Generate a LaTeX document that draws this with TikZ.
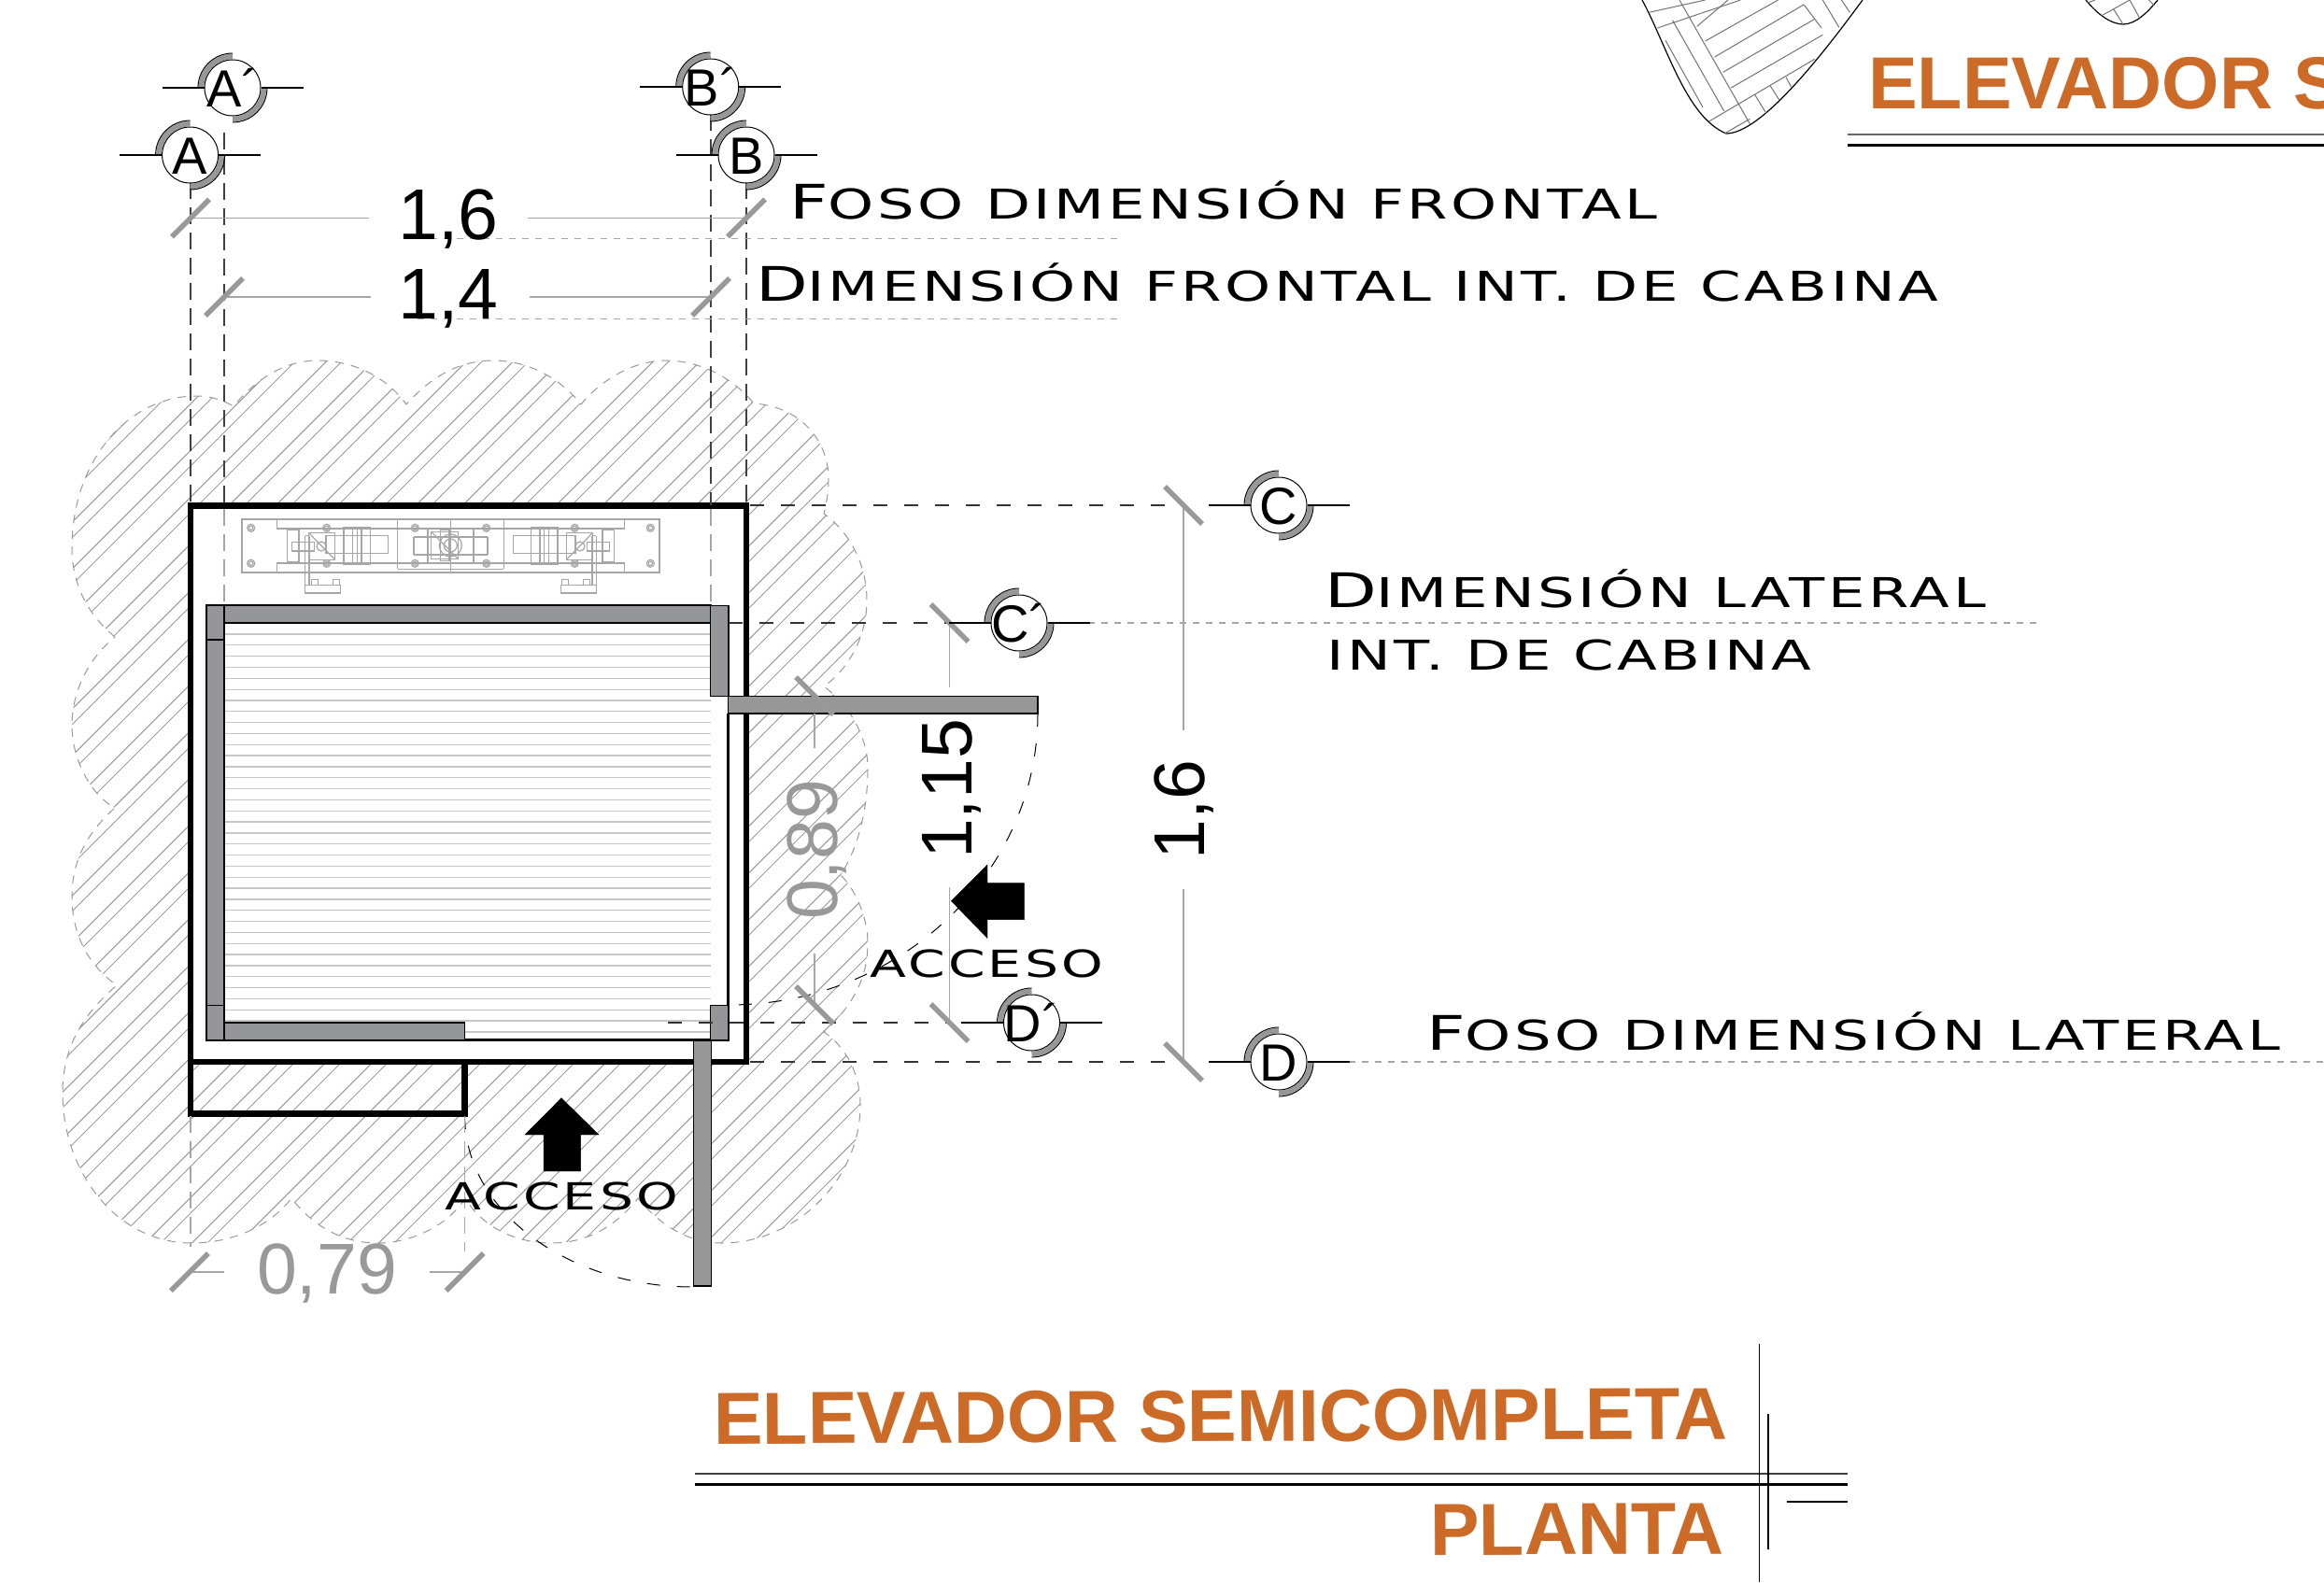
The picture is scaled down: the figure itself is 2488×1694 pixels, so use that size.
\documentclass[tikz,border=0pt]{standalone}
\usepackage{fontspec}
\setmainfont{Liberation Sans}
\newfontfamily\planfont[FakeStretch=1.42,LetterSpace=8]{DejaVu Sans}
\definecolor{wallgray}{HTML}{949598}
\definecolor{doorgray}{HTML}{979797}
\definecolor{dimgray}{HTML}{999999}
\definecolor{titleorange}{HTML}{CC6A28}
\tikzset{
    shaftline/.style={black, line width=6.5pt},
    wallpart/.style={fill=wallgray, draw=black, line width=2pt},
    doorpart/.style={fill=doorgray, draw=black, line width=1.5pt},
    hatchline/.style={black!40, line width=1pt},
    cloudline/.style={black!40, line width=1pt, dash pattern=on 9pt off 8pt},
    axisline/.style={black!75, line width=1.5pt, dash pattern=on 18pt off 9pt},
    axisfaint/.style={black!35, line width=1.5pt, dash pattern=on 18pt off 9pt},
    leadline/.style={black!80, line width=1.5pt, dash pattern=on 15pt off 18pt},
    leadfaint/.style={black!35, line width=1.2pt, dash pattern=on 7pt off 7pt},
    swingline/.style={black, line width=1pt, dash pattern=on 14pt off 18pt},
    dimline/.style={black!35, line width=1.5pt},
    dimtick/.style={dimgray, line width=5.5pt},
    machineline/.style={black!35, line width=1.2pt},
    floorline/.style={black!22, line width=1.3pt},
    gridbubble/.style={circle, draw=black, fill=white, line width=1pt, minimum size=60pt, inner sep=0pt},
    dimnum/.style={font=\fontsize{77}{80}\selectfont, inner sep=0pt, anchor=base},
    planlabel/.style={font=\planfont\fontsize{44}{46}\selectfont, inner sep=0pt, anchor=base west},
    accesslabel/.style={font=\planfont\fontsize{40}{42}\selectfont, inner sep=0pt, anchor=base west},
    sheettitle/.style={font=\bfseries\fontsize{79}{80}\selectfont, text=titleorange, inner sep=0pt, anchor=base west}
}
\newcommand{\bubtxt}[1]{\makebox[0pt]{\raisebox{-20pt}[0pt][0pt]{\fontsize{56}{58}\selectfont #1}}}
\newcommand{\bigini}[1]{{\fontsize{51}{52}\selectfont #1}}
\newcommand{\cloudoutline}{(123,682) .. controls (90,655) and (77,620) .. (77,587)
    .. controls (77,490) and (140,424) .. (210,424) .. controls (225,424) and (238,428) .. (250,435)
    .. controls (275,405) and (305,386) .. (340,386) .. controls (380,386) and (415,405) .. (435,433)
    .. controls (460,405) and (490,386) .. (528,386) .. controls (565,386) and (600,405) .. (622,433)
    .. controls (645,405) and (680,386) .. (713,386) .. controls (750,386) and (785,405) .. (807,432)
    .. controls (855,435) and (887,470) .. (887,513) .. controls (887,525) and (885,540) .. (882,550)
    .. controls (910,570) and (928,605) .. (928,643) .. controls (928,680) and (910,715) .. (882,735)
    .. controls (910,755) and (929,790) .. (929,822) .. controls (929,865) and (920,905) .. (900,937)
    .. controls (918,955) and (929,985) .. (929,1010) .. controls (929,1045) and (915,1075) .. (882,1105)
    .. controls (905,1120) and (921,1150) .. (921,1183) .. controls (921,1265) and (850,1331) .. (773,1331)
    .. controls (735,1331) and (705,1310) .. (683,1283) .. controls (660,1312) and (630,1331) .. (590,1331)
    .. controls (550,1331) and (515,1312) .. (498,1283) .. controls (480,1312) and (440,1331) .. (405,1331)
    .. controls (365,1331) and (335,1312) .. (312,1283) .. controls (290,1312) and (250,1331) .. (205,1331)
    .. controls (125,1331) and (67,1255) .. (67,1170) .. controls (67,1120) and (90,1085) .. (125,1055)
    .. controls (90,1030) and (77,995) .. (77,960) .. controls (77,920) and (95,890) .. (123,865)
    .. controls (95,850) and (77,810) .. (77,777) .. controls (77,740) and (95,705) .. (123,682)}
\newcommand{\drivehalf}{
    \draw[machineline] (259,556) rectangle (482.5,613);
    \draw[machineline] (296.3,556) -- (296.3,566) -- (322,566) -- (482.5,566);
    \draw[machineline] (296.3,613) -- (296.3,603) -- (322,603) -- (482.5,603);
    \draw[machineline] (307.7,567) rectangle (320,602);
    \draw[machineline] (312.3,580.7) rectangle (336.3,590);
    \draw[machineline] (330.3,570.3) rectangle (358.7,599.3);
    \draw[machineline] (330.3,570.3) -- (358.7,599.3);
    \draw[machineline] (344,585) circle (5pt);
    \draw[machineline] (349,573.7) rectangle (415.7,592.3);
    \draw[machineline] (368,564.7) rectangle (396.3,604);
    \draw[machineline] (377.3,564.7) -- (377.3,604);
    \draw[machineline] (382.3,564.7) -- (382.3,604);
    \draw[machineline] (387,564.7) -- (387,604);
    \draw[machineline] (326.7,573.7) -- (326.7,635);
    \draw[machineline] (331,573.7) -- (331,626.7);
    \draw[machineline] (326.7,573.7) -- (331,573.7);
    \draw[machineline] (326.7,626.7) rectangle (364.7,635);
    \draw[machineline] (333.7,620.7) rectangle (340.3,626.7);
    \draw[machineline] (356.3,620.7) rectangle (363.3,626.7);
    \draw[machineline] (425.7,556.7) -- (482.5,556.7);
    \draw[machineline] (425.7,609.3) -- (482.5,609.3);
    \draw[machineline] (425.7,556.7) -- (425.7,609.3);
    \draw[machineline] (458,565.7) -- (458,603);
    \draw[machineline] (443,575) -- (443,594);
    \draw[machineline] (443,575) -- (482.5,575);
    \draw[machineline] (443,594) -- (482.5,594);
    \foreach \bx/\by in {268.7/565.3, 268.7/603.3, 349.7/565.3, 349.7/603.3, 444.3/565.3, 444.3/603.3}{
        \draw[machineline] (\bx,\by) circle (4pt);
        \draw[machineline] (\bx,\by) circle (2.2pt);
    }
}
\begin{document}
\begin{tikzpicture}[x=1pt,y=-1pt]
    \useasboundingbox (0,0) rectangle (2488,1694);
    \clip (0,0) rectangle (2488,1694);
    \fill[white] (0,0) rectangle (2488,1694);

    \begin{scope}
        \clip \cloudoutline;
        \foreach \k in {-7,...,30}{
            \draw[hatchline] (0,203+583.3+50*\k) -- (1000,-797+583.3+50*\k);
            \draw[hatchline] (0,203+600+50*\k) -- (1000,-797+600+50*\k);
        }
    \end{scope}
    \fill[white] (204,541.5) rectangle (799,1137);
    \draw[cloudline] \cloudoutline;

    \foreach \k in {0,...,36}{
        \draw[floorline] (240,679+11.83*\k) -- (761,679+11.83*\k);
    }

    \drivehalf
    \begin{scope}[xshift=965pt,xscale=-1]
        \drivehalf
    \end{scope}
    \draw[machineline] (461.7,569.3) rectangle (490.7,598.7);
    \draw[machineline] (471.3,567.3) rectangle (481,600.7);
    \draw[machineline] (461.7,569.3) -- (490.7,598.7);
    \draw[machineline] (482.3,584) circle (12pt);
    \draw[machineline] (482.3,584) circle (7pt);

    \draw[axisfaint] (240,545) -- (240,648);
    \draw[axisfaint] (761,545) -- (761,648);

    \draw[shaftline] (204,541.5) rectangle (799,1137);
    \draw[shaftline] (204,1137) rectangle (497.6,1192.7);

    \draw[black, line width=2.5pt] (221,1113.7) -- (780,1113.7);
    \draw[black, line width=2.5pt] (779.5,764) -- (779.5,1114);
    \filldraw[wallpart] (240,648.3) rectangle (760.7,666.7);
    \filldraw[wallpart] (221,648.3) rectangle (240,685);
    \filldraw[wallpart] (221,685) rectangle (240,1076.7);
    \filldraw[wallpart, line width=1.2pt] (221,1076.7) rectangle (240,1114);
    \filldraw[wallpart, line width=1.2pt] (240,1095) rectangle (497.6,1114);
    \filldraw[wallpart, line width=1.2pt] (760.7,648.3) rectangle (780,745.7);
    \filldraw[wallpart, line width=1.2pt] (760.7,1076.7) rectangle (780,1114);
    \filldraw[doorpart] (779.5,745.7) rectangle (1111,764);
    \filldraw[doorpart] (742.7,1114) rectangle (761.7,1377);

    \draw[swingline] (1111,764) .. controls (1111,936) and (962,1076) .. (780,1076);
    \draw[swingline] (497.6,1195) .. controls (497.6,1296) and (607,1378) .. (742,1378);

    \draw[axisline] (204,195) -- (204,541);
    \draw[axisline] (240,142) -- (240,541);
    \draw[axisline] (761,122) -- (761,541);
    \draw[axisline] (799,195) -- (799,541);
    \draw[axisfaint] (204,1195) -- (204,1335);
    \draw[axisfaint] (497.6,1195) -- (497.6,1340);

    \draw[leadline] (803,541) -- (1266,541);
    \draw[leadline] (780,667) -- (1016,667);
    \draw[leadfaint] (1165,667) -- (2180,667);
    \draw[leadline] (715,1095) -- (1016,1095);
    \draw[leadline] (803,1137) -- (1267,1137);
    \draw[leadfaint] (1444,1137) -- (2488,1137);
    \draw[leadfaint] (447,255.5) -- (1196,255.5);
    \draw[leadfaint] (447,341.5) -- (1196,341.5);

    \draw[dimline] (204,233.5) -- (395,233.5);
    \draw[dimline] (565,233.5) -- (799,233.5);
    \draw[dimline] (240,318) -- (397,318);
    \draw[dimline] (567,318) -- (761,318);
    \draw[dimline] (203,1362) -- (240,1362);
    \draw[dimline] (460,1362) -- (497.6,1362);
    \draw[dimline] (1016.5,667) -- (1016.5,736);
    \draw[dimline] (1016.5,950) -- (1016.5,1095);
    \draw[dimline] (1267,541) -- (1267,782);
    \draw[dimline] (1267,952) -- (1267,1137);
    \draw[dimline] (872,764) -- (872,801);
    \draw[dimline] (872,1021) -- (872,1076);

    \foreach \tx/\ty in {204/233.5, 799/233.5, 240/318, 761/318, 203/1362, 497.6/1362}{
        \draw[dimtick] (\tx-20,\ty+20) -- (\tx+20,\ty-20);
    }
    \foreach \tx/\ty in {1016.5/667, 1016.5/1095, 1267/541, 1267/1137, 872/745, 872/1076}{
        \draw[dimtick] (\tx-20,\ty-20) -- (\tx+20,\ty+20);
    }

    \node[dimnum] (frontpit) at (480,256) {1,6};
    \node[dimnum] (frontcab) at (480,341) {1,4};
    \node[dimnum, text=dimgray] (doorfront) at (350,1385) {0,79};
    \node[dimnum, rotate=90] (sidecab) at (1040,845) {1,15};
    \node[dimnum, rotate=90] (sidepit) at (1289,867) {1,6};
    \node[dimnum, rotate=90, text=dimgray] (doorside) at (896,910) {0,89};

    \foreach \bub/\lab/\bx/\by in {Ap/A´/249/94, A/A/203.6/166, Bp/B´/760.7/93, B/B/799/166,
        C/C/1369/541, Cp/C´/1091/667, D/D/1369/1137, Dp/D´/1104.5/1095}{
        \draw[doorgray, line width=5.5pt] (\bx-33.5,\by) arc[start angle=180, end angle=90, radius=33.5pt];
        \draw[doorgray, line width=5.5pt] (\bx+33.5,\by) arc[start angle=0, end angle=-90, radius=33.5pt];
        \draw[black, line width=1pt] (\bx-37,\by) arc[start angle=180, end angle=90, radius=37pt];
        \draw[black, line width=1pt] (\bx+37,\by) arc[start angle=0, end angle=-90, radius=37pt];
        \node[gridbubble] (\bub) at (\bx,\by) {\bubtxt{\lab}};
        \draw[black, line width=2pt] (\bub.west) -- ++(-45,0);
        \draw[black, line width=2pt] (\bub.east) -- ++(45,0);
    }

    \filldraw[black] (601,1175.7) -- (641,1215) -- (621.6,1215) -- (621.6,1254) -- (582,1254) -- (582,1215) -- (562,1215) -- cycle;
    \filldraw[black] (1018.4,964.7) -- (1057,926) -- (1057,945.6) -- (1096.5,945.6) -- (1096.5,984.6) -- (1057,984.6) -- (1057,1004.5) -- cycle;
    \node[accesslabel] (accessfront) at (476,1295) {ACCESO};
    \node[accesslabel] (accessside) at (931,1046) {ACCESO};

    \node[planlabel] (pitfront) at (845,234) {\bigini{F}OSO DIMENSIÓN FRONTAL};
    \node[planlabel] (cabfront) at (809,322.7) {\bigini{D}IMENSIÓN FRONTAL INT. DE CABINA};
    \node[planlabel] (cabside) at (1418,650) {\bigini{D}IMENSIÓN LATERAL};
    \node[planlabel] (cabsidetwo) at (1420,717) {INT. DE CABINA};
    \node[planlabel] (pitside) at (1527,1124) {\bigini{F}OSO DIMENSIÓN LATERAL};

    \node[sheettitle, rotate=0.3] (planttitle) at (764,1546.5) {ELEVADOR SEMICOMPLETA};
    \node[sheettitle, rotate=0.3] (plantsub) at (1531,1665.5) {PLANTA};
    \node[sheettitle] (nexttitle) at (2000,116) {ELEVADOR S};

    \draw[black!75, line width=2.5pt] (744,1578) -- (1978,1578);
    \draw[black, line width=3pt] (744,1589) -- (1978,1589);
    \draw[black, line width=1pt] (1883,1439) -- (1883,1694);
    \draw[black, line width=1.5pt] (1893,1514) -- (1893,1659);
    \draw[black, line width=1.5pt] (1913,1608) -- (1978,1608);
    \draw[black!60, line width=2.5pt] (1978,144) -- (2488,144);
    \draw[black, line width=3pt] (1978,155) -- (2488,155);

    \draw[black, line width=1.2pt] (1758,0) .. controls (1785,50) and (1805,125) .. (1848,143) .. controls (1885,143) and (1950,60) .. (1994,0);
    \draw[black, line width=1.2pt] (2233,0) .. controls (2245,15) and (2260,26) .. (2273,26) .. controls (2287,26) and (2300,12) .. (2310,0);
    \foreach \ax/\ay/\bx/\by in {1765.3/13.3/1825.6/0, 1774.4/30/1863.3/0, 1816.6/28.3/1850/0, 1825.6/44/1903.5/0,
        1835.7/61/1931/5, 1844.7/77.3/1942.2/20.7, 1853.3/94/1951.3/37.3, 1829.6/130/1942.7/63.3, 1846.7/142.7/1873.4/127.3,
        1798/0/1873.4/132.7, 1790.5/21.7/1845.7/119, 1783/43.3/1823/115, 1931.2/5/1950/30, 1951.3/0/1968.8/29.3, 1971.4/0/1980.4/13.3,
        1878.4/101/1891/121.7, 1895/91.7/1905/107.3, 1912/82.7/1917.6/93.3,
        2250/16.7/2280/0, 2235/3/2243/0, 2262.8/10/2272.9/26, 2280/0/2290.5/19.3, 2300.5/0/2306.5/6}{
        \draw[black!55, line width=1pt] (\ax,\ay) -- (\bx,\by);
    }
\end{tikzpicture}
\end{document}
